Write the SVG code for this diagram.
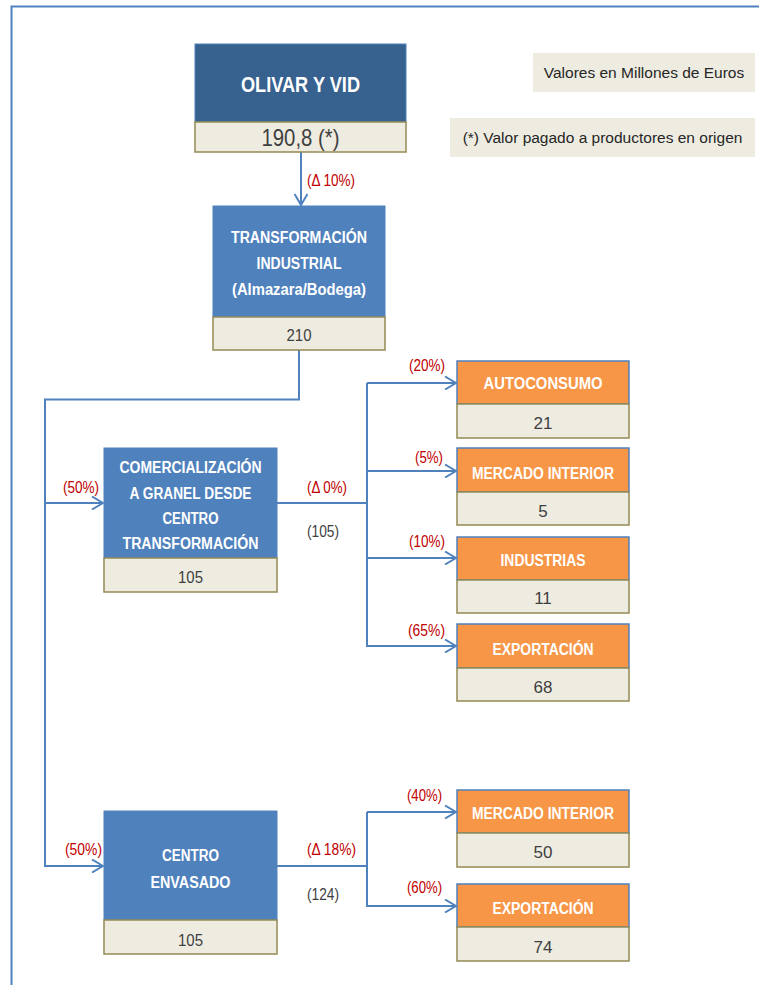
<svg xmlns="http://www.w3.org/2000/svg" width="759" height="985" viewBox="0 0 759 985">
<style>
.bg{fill:#fff}
.frame{fill:none;stroke:#4F81BD;stroke-width:2}
.dk{fill:#37618F;stroke:#4F81BD;stroke-width:1}
.bl{fill:#4F81BD;stroke:#4F81BD;stroke-width:1}
.or{fill:#F79646;stroke:#4F81BD;stroke-width:1.5}
.bx{fill:#EEECE1;stroke:#948A54;stroke-width:1.5}
.lg{fill:#EEECE1}
text{font-family:"Liberation Sans",Arial,sans-serif}
.t{font-weight:bold;font-size:16px;fill:#fff;text-anchor:middle}
.tb{font-weight:bold;font-size:22px;fill:#fff;text-anchor:middle}
.v{font-size:17px;fill:#3F3F3F;text-anchor:middle}
.vb{font-size:24px;fill:#3F3F3F;text-anchor:middle}
.r{font-size:16px;fill:#C00000}
.g{font-size:16px;fill:#3F3F3F}
.l{font-size:15.5px;fill:#262626;text-anchor:middle}
.c{fill:none;stroke:#4F81BD;stroke-width:2}
</style>
<defs>
<marker id="ah" viewBox="0 0 13 14" refX="12" refY="7" markerWidth="13" markerHeight="14" markerUnits="userSpaceOnUse" orient="auto">
<path d="M1,0.5 L12,7 L1,13.5" fill="none" stroke="#4F81BD" stroke-width="2"/>
</marker>
</defs>
<rect class="bg" x="0" y="0" width="759" height="985"/>
<path class="frame" d="M11.5,990 V6.5 H765"/>

<g id="legend1"><rect class="lg" x="533" y="53" width="222" height="39"/><text class="l" x="644" y="78">Valores en Millones de Euros</text></g>
<g id="legend2"><rect class="lg" x="450" y="118" width="305" height="39"/><text class="l" x="602.5" y="143">(*) Valor pagado a productores en origen</text></g>

<g id="connectors">
<path class="c" d="M301,152 V205" marker-end="url(#ah)"/>
<path class="c" d="M299,350 V399.5 H45 V866 H103" marker-end="url(#ah)"/>
<path class="c" d="M45,503 H103" marker-end="url(#ah)"/>
<path class="c" d="M277,503 H367"/>
<path class="c" d="M367,383 V646"/>
<path class="c" d="M367,383 H456" marker-end="url(#ah)"/>
<path class="c" d="M367,471 H456" marker-end="url(#ah)"/>
<path class="c" d="M367,558 H456" marker-end="url(#ah)"/>
<path class="c" d="M366,646 H456" marker-end="url(#ah)"/>
<path class="c" d="M277,866 H367"/>
<path class="c" d="M367,812 V906"/>
<path class="c" d="M367,812 H456" marker-end="url(#ah)"/>
<path class="c" d="M366,906 H456" marker-end="url(#ah)"/>
<text class="r" x="307" y="186" textLength="48" lengthAdjust="spacingAndGlyphs">(Δ 10%)</text>
<text class="r" x="63" y="493" textLength="36" lengthAdjust="spacingAndGlyphs">(50%)</text>
<text class="r" x="307" y="493" textLength="40" lengthAdjust="spacingAndGlyphs">(Δ 0%)</text>
<text class="g" x="307" y="537" textLength="32" lengthAdjust="spacingAndGlyphs">(105)</text>
<text class="r" x="409" y="371" textLength="36" lengthAdjust="spacingAndGlyphs">(20%)</text>
<text class="r" x="415" y="463" textLength="28" lengthAdjust="spacingAndGlyphs">(5%)</text>
<text class="r" x="409" y="547" textLength="36" lengthAdjust="spacingAndGlyphs">(10%)</text>
<text class="r" x="408" y="636" textLength="37" lengthAdjust="spacingAndGlyphs">(65%)</text>
<text class="r" x="65" y="855" textLength="37" lengthAdjust="spacingAndGlyphs">(50%)</text>
<text class="r" x="307" y="855" textLength="49" lengthAdjust="spacingAndGlyphs">(Δ 18%)</text>
<text class="g" x="307" y="900" textLength="32" lengthAdjust="spacingAndGlyphs">(124)</text>
<text class="r" x="407" y="801" textLength="35" lengthAdjust="spacingAndGlyphs">(40%)</text>
<text class="r" x="407" y="893" textLength="35" lengthAdjust="spacingAndGlyphs">(60%)</text>
</g>

<g id="olivar">
<rect class="dk" x="195" y="44" width="211" height="78"/>
<rect class="bx" x="195" y="122" width="211" height="30"/>
<text class="tb" x="300.5" y="92" textLength="119" lengthAdjust="spacingAndGlyphs">OLIVAR Y VID</text>
<text class="vb" x="300.5" y="146" textLength="78" lengthAdjust="spacingAndGlyphs">190,8 (*)</text>
</g>

<g id="transformacion">
<rect class="bl" x="213" y="206" width="172" height="111"/>
<rect class="bx" x="213" y="317" width="172" height="33"/>
<text class="t" x="299" y="243" textLength="136" lengthAdjust="spacingAndGlyphs">TRANSFORMACIÓN</text>
<text class="t" x="299" y="269" textLength="85" lengthAdjust="spacingAndGlyphs">INDUSTRIAL</text>
<text class="t" x="299" y="295" textLength="134" lengthAdjust="spacingAndGlyphs">(Almazara/Bodega)</text>
<text class="v" x="299" y="341" textLength="25" lengthAdjust="spacingAndGlyphs">210</text>
</g>

<g id="comercializacion">
<rect class="bl" x="104" y="448" width="173" height="110"/>
<rect class="bx" x="104" y="558" width="173" height="34"/>
<text class="t" x="190.5" y="473" textLength="142" lengthAdjust="spacingAndGlyphs">COMERCIALIZACIÓN</text>
<text class="t" x="190.5" y="499" textLength="122" lengthAdjust="spacingAndGlyphs">A GRANEL DESDE</text>
<text class="t" x="190.5" y="524" textLength="56" lengthAdjust="spacingAndGlyphs">CENTRO</text>
<text class="t" x="190.5" y="549" textLength="136" lengthAdjust="spacingAndGlyphs">TRANSFORMACIÓN</text>
<text class="v" x="190.5" y="583" textLength="25" lengthAdjust="spacingAndGlyphs">105</text>
</g>

<g id="autoconsumo">
<rect class="or" x="457" y="361" width="172" height="43"/>
<rect class="bx" x="457" y="404" width="172" height="34"/>
<text class="t" x="543" y="389" textLength="119" lengthAdjust="spacingAndGlyphs">AUTOCONSUMO</text>
<text class="v" x="543" y="429">21</text>
</g>

<g id="mercado1">
<rect class="or" x="457" y="448" width="172" height="44"/>
<rect class="bx" x="457" y="492" width="172" height="33"/>
<text class="t" x="543" y="479" textLength="142" lengthAdjust="spacingAndGlyphs">MERCADO INTERIOR</text>
<text class="v" x="543" y="517">5</text>
</g>

<g id="industrias">
<rect class="or" x="457" y="537" width="172" height="43"/>
<rect class="bx" x="457" y="580" width="172" height="33"/>
<text class="t" x="543" y="566" textLength="85" lengthAdjust="spacingAndGlyphs">INDUSTRIAS</text>
<text class="v" x="543" y="604">11</text>
</g>

<g id="exportacion1">
<rect class="or" x="457" y="624" width="172" height="44"/>
<rect class="bx" x="457" y="668" width="172" height="33"/>
<text class="t" x="543" y="655" textLength="101" lengthAdjust="spacingAndGlyphs">EXPORTACIÓN</text>
<text class="v" x="543" y="693">68</text>
</g>

<g id="envasado">
<rect class="bl" x="104" y="811" width="173" height="109"/>
<rect class="bx" x="104" y="920" width="173" height="34"/>
<text class="t" x="190.5" y="861" textLength="57" lengthAdjust="spacingAndGlyphs">CENTRO</text>
<text class="t" x="190.5" y="888" textLength="80" lengthAdjust="spacingAndGlyphs">ENVASADO</text>
<text class="v" x="190.5" y="946" textLength="25" lengthAdjust="spacingAndGlyphs">105</text>
</g>

<g id="mercado2">
<rect class="or" x="457" y="790" width="172" height="43"/>
<rect class="bx" x="457" y="833" width="172" height="34"/>
<text class="t" x="543" y="819" textLength="142" lengthAdjust="spacingAndGlyphs">MERCADO INTERIOR</text>
<text class="v" x="543" y="858">50</text>
</g>

<g id="exportacion2">
<rect class="or" x="457" y="884" width="172" height="43"/>
<rect class="bx" x="457" y="927" width="172" height="34"/>
<text class="t" x="543" y="914" textLength="101" lengthAdjust="spacingAndGlyphs">EXPORTACIÓN</text>
<text class="v" x="543" y="953">74</text>
</g>
</svg>
